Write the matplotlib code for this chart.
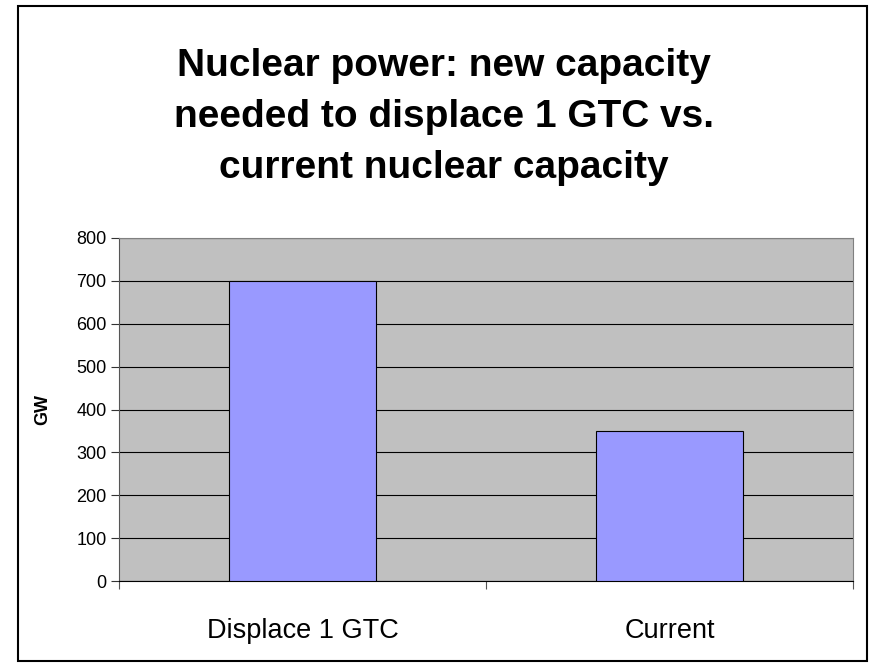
import matplotlib
matplotlib.use('Agg')
import matplotlib.pyplot as plt
from matplotlib.patches import Rectangle

categories = ['Displace 1 GTC', 'Current']
capacity_gw = [700, 350]
yticks = [0, 100, 200, 300, 400, 500, 600, 700, 800]
title_lines = ['Nuclear power: new capacity',
               'needed to displace 1 GTC vs.',
               'current nuclear capacity']

plt.rcParams['font.family'] = ['Liberation Sans', 'DejaVu Sans']

W, H = 870, 663
fig = plt.figure(figsize=(W / 100, H / 100), dpi=100)
fig.patches.append(Rectangle((18 / W, 2 / H), 849 / W, 655 / H,
                             transform=fig.transFigure, fill=False,
                             edgecolor='black', linewidth=1.5))

ax = fig.add_axes([119 / W, 1 - 581 / H, 734 / W, 343 / H])
ax.set_facecolor('#c0c0c0')
ax.bar(range(len(categories)), capacity_gw, width=0.4, color='#9999ff',
       edgecolor='black', linewidth=0.8, zorder=3)

ax.set_xlim(-0.5, 1.5)
ax.set_ylim(0, 800)
ax.set_yticks(yticks)
ax.set_yticklabels([str(v) for v in yticks], fontsize=13)
ax.yaxis.grid(True, color='black', linewidth=0.8, zorder=0)
ax.set_axisbelow(True)

ax.set_xticks([-0.5, 0.5, 1.5])
ax.set_xticklabels([])
ax.tick_params(axis='x', length=6, color='#555555')
ax.tick_params(axis='y', length=6, color='#333333', pad=3)
for i, c in enumerate(categories):
    ax.text(i, -0.166, c, transform=ax.get_xaxis_transform(),
            ha='center', va='baseline', fontsize=19.5)

for side in ['top', 'right']:
    ax.spines[side].set_color('#808080')
ax.spines['left'].set_color('#555555')
ax.spines['bottom'].set_color('black')

ax.set_ylabel('GW', fontsize=13, fontweight='bold')
ax.yaxis.set_label_coords(-0.0926, 0.5)

# title lines, baselines roughly 51px apart
for k, line in enumerate(title_lines):
    fig.text(0.51, 1 - (76 + 51 * k) / H, line, ha='center', va='baseline',
             fontsize=28, fontweight='bold')

fig.savefig('out.png', dpi=100)
